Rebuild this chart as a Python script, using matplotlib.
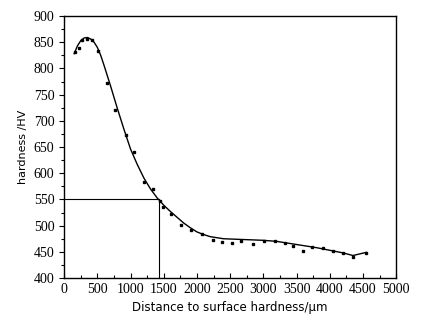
import matplotlib.pyplot as plt
from matplotlib.ticker import MultipleLocator

# measured points
dist = [161, 216, 271, 351, 426, 507, 648, 773, 929, 1059, 1195, 1335, 1450,
        1496, 1616, 1762, 1913, 2073, 2249, 2380, 2535, 2670, 2851, 3012,
        3178, 3324, 3449, 3599, 3740, 3905, 4051, 4197, 4352, 4544]
hard = [831, 838, 854, 856, 854, 833, 773, 720, 673, 640, 584, 570, 547,
        535, 522, 502, 492, 484, 472, 469, 467, 471, 465, 471,
        470, 466, 461, 452, 460, 457, 451, 447, 441, 447]

# fitted curve
fit_x = [150, 200, 250, 300, 350, 400, 450, 500, 550, 600, 700, 800, 900, 1000,
         1100, 1200, 1300, 1400, 1500, 1600, 1700, 1800, 1900, 2000, 2100, 2200,
         2400, 2600, 2800, 3000, 3200, 3400, 3600, 3800, 4000, 4200, 4350, 4550]
fit_y = [828, 843, 853, 858, 859, 856, 850, 840, 825, 806, 766, 724, 684, 646,
         617, 591, 570, 553, 539, 527, 516, 505, 496, 488, 483, 479,
         475, 474, 473, 472, 470, 466, 462, 458, 453, 448, 443, 449]

# reference at 550 HV
ref_x = 1430
ref_y = 550

fig = plt.figure(figsize=(4.25, 3.33), dpi=100)
ax = fig.add_axes([0.151, 0.165, 0.781, 0.787])

ax.plot(fit_x, fit_y, color='black', lw=1.0)
ax.plot(dist, hard, 's', color='black', ms=2)
ax.plot([0, ref_x], [ref_y, ref_y], color='black', lw=0.8)
ax.plot([ref_x, ref_x], [400, ref_y], color='black', lw=0.8)

ax.set_xlim(0, 5000)
ax.set_ylim(400, 900)
ax.xaxis.set_major_locator(MultipleLocator(500))
ax.xaxis.set_minor_locator(MultipleLocator(250))
ax.yaxis.set_major_locator(MultipleLocator(50))
ax.yaxis.set_minor_locator(MultipleLocator(25))
ax.tick_params(axis='x', which='both', direction='in')
ax.tick_params(axis='y', which='both', direction='out')
ax.tick_params(which='major', length=3.5, width=0.8)
ax.tick_params(which='minor', length=2, width=0.8)

for lab in ax.get_xticklabels() + ax.get_yticklabels():
    lab.set_family('Liberation Serif')
    lab.set_fontsize(10)

ax.set_xlabel('Distance to surface hardness/μm', fontsize=8.5, family='DejaVu Sans')
ax.set_ylabel('hardness /HV', fontsize=8, family='DejaVu Sans')

for s in ax.spines.values():
    s.set_linewidth(1.0)

fig.savefig('out.png', dpi=100)
